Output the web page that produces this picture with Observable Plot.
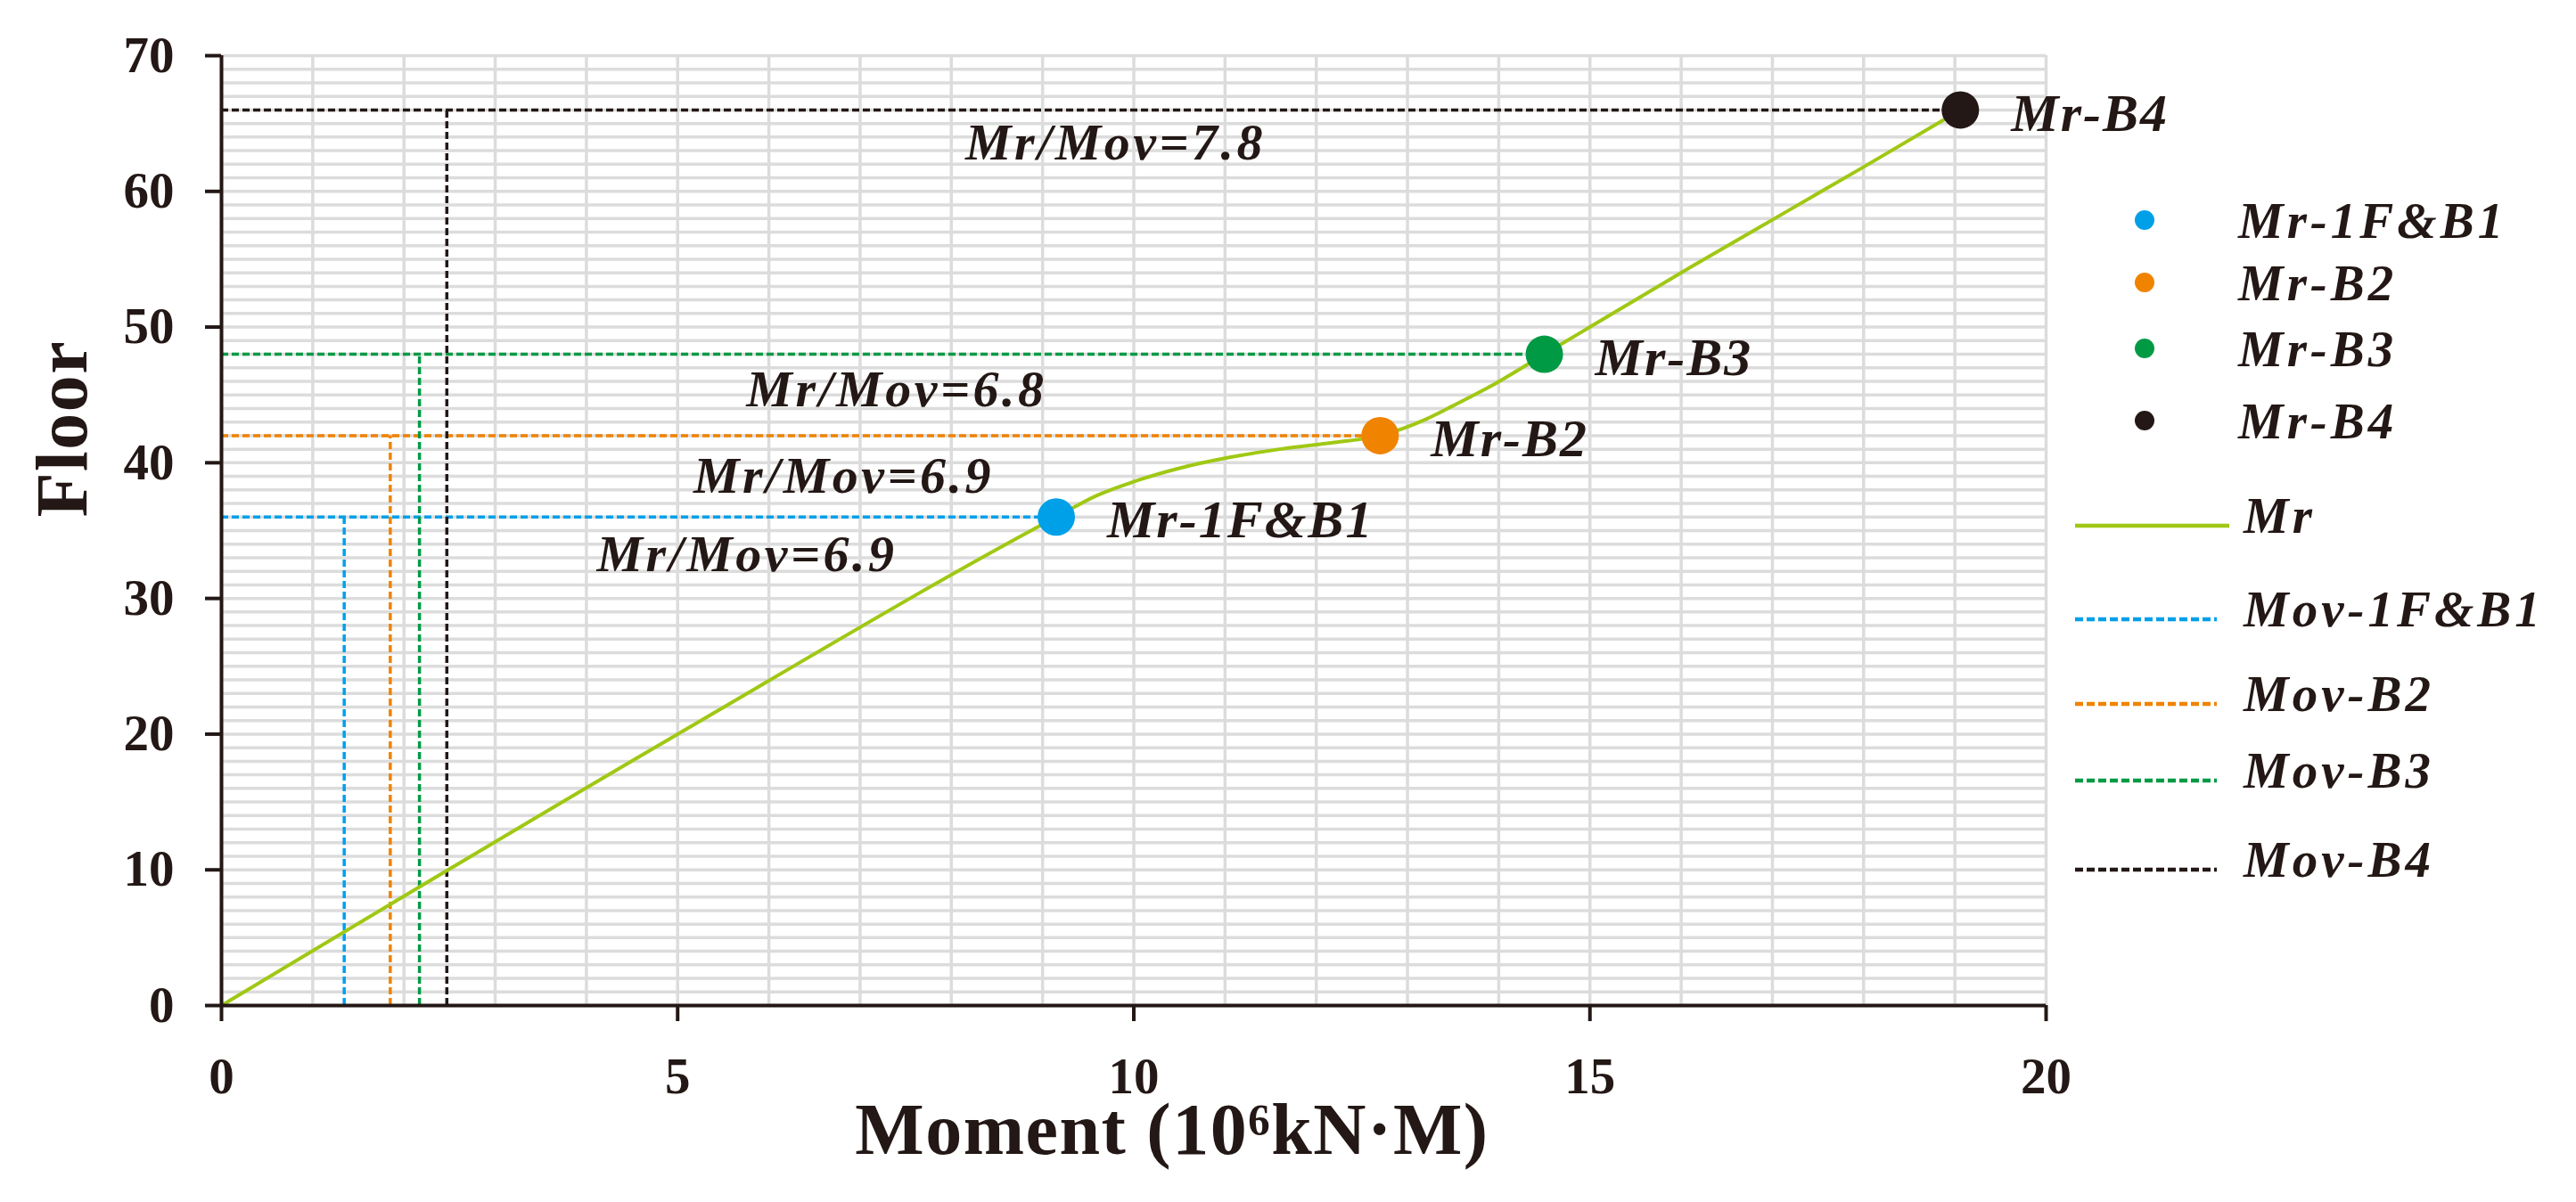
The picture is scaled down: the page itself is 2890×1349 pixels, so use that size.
<!DOCTYPE html>
<html>
<head>
<meta charset="utf-8">
<script src="https://cdn.jsdelivr.net/npm/d3@7"></script>
<script src="https://cdn.jsdelivr.net/npm/@observablehq/plot@0.6"></script>
<style>
  body { margin: 0; background: #fff; }
  #wrap { position: relative; width: 2890px; height: 1349px; font-family: "Liberation Serif", "Times New Roman", serif; color: #231815; }
  #wrap svg { overflow: visible; }
  #wrap svg g[font-size="60"] { letter-spacing: 2px; }
  #wrap svg g[font-size="58"] { letter-spacing: 3.5px; }
  #wrap svg g[font-size="82"] { letter-spacing: 1.5px; }
  .leg-text { position: absolute; font-size: 57px; font-weight: bold; font-style: italic; letter-spacing: 4px; line-height: 1; transform: translateY(-50%); white-space: nowrap; color: #231815; }
  .leg-sw { position: absolute; }
</style>
</head>
<body>
<div id="wrap"></div>
<script>
// ---- data ----
const pointNames = ["Mr-1F&B1", "Mr-B2", "Mr-B3", "Mr-B4"];
const mrValues = [9.15, 12.7, 14.5, 19.06];          // 10^6 kN·M
const floors = [36, 42, 48, 66];
const movValues = [1.345, 1.85, 2.17, 2.47];         // 10^6 kN·M
const seriesColors = ["#00a0e9", "#f08300", "#009a44", "#231815"];
const curveMoment = [0, 5, 9.15, 9.6, 10.04, 10.5, 11.05, 11.6, 12.2, 12.7, 13.2, 13.5, 13.9, 14.5, 16.1, 18.0, 19.06];
const curveFloor  = [0, 20, 36, 37.6, 38.7, 39.6, 40.4, 41.0, 41.5, 42, 43.2, 44.2, 45.6, 48, 54.4, 61.8, 66];
const ratioLabels = ["Mr/Mov=7.8", "Mr/Mov=6.8", "Mr/Mov=6.9", "Mr/Mov=6.9"];
const ratioX = [9.8, 7.4, 6.82, 5.76];
const ratioY = [63.6, 45.4, 39.0, 33.2];
const xTicks = [0, 5, 10, 15, 20];
const yTicks = [0, 10, 20, 30, 40, 50, 60, 70];
const curveName = "Mr";
const xTitle = "Moment (10⁶kN·M)";
const yTitle = "Floor";

// ---- tables ----
const pts = pointNames.map((n, i) => ({ name: n, mr: mrValues[i], floor: floors[i], mov: movValues[i], color: seriesColors[i] }));
const curve = curveMoment.map((m, i) => ({ m, f: curveFloor[i] }));
const ratios = ratioLabels.map((t, i) => ({ t, x: ratioX[i], y: ratioY[i] }));

const ink = "#231815";
const curveColor = "#a0c814";
const dash = "8,4";

const chart = Plot.plot({
  width: 2890,
  height: 1349,
  marginLeft: 248,
  marginRight: 595,
  marginTop: 62,
  marginBottom: 221,
  style: { fontFamily: '"Liberation Serif", "Times New Roman", serif', fontWeight: "bold", color: ink, background: "#fff" },
  x: { domain: [0, 20], label: null },
  y: { domain: [0, 70], label: null },
  color: { type: "identity" },
  marks: [
    Plot.gridX(d3.range(0, 21), { stroke: "#dcdcdc", strokeOpacity: 1, strokeWidth: 3.5 }),
    Plot.gridY(d3.range(0, 71), { stroke: "#dcdcdc", strokeOpacity: 1, strokeWidth: 3.5 }),
    Plot.ruleY(pts, { y: "floor", x1: 0, x2: "mr", stroke: "color", strokeWidth: 3.5, strokeDasharray: dash }),
    Plot.ruleX(pts, { x: "mov", y1: 0, y2: "floor", stroke: "color", strokeWidth: 3.5, strokeDasharray: dash }),
    Plot.line(curve, { x: "m", y: "f", stroke: curveColor, strokeWidth: 4, curve: "monotone-x" }),
    Plot.dot(pts, { x: "mr", y: "floor", r: 21, fill: "color", stroke: null }),
    Plot.text(pts, { x: "mr", y: "floor", text: "name", textAnchor: "start", dx: 57, dy: 4, fontSize: 60, fontStyle: "italic", fill: ink }),
    Plot.text(ratios, { x: "x", y: "y", text: "t", textAnchor: "middle", fontSize: 58, fontStyle: "italic", fill: ink }),
    Plot.ruleX([0], { stroke: ink, strokeWidth: 4 }),
    Plot.ruleY([0], { stroke: ink, strokeWidth: 4 }),
    Plot.axisX(xTicks, { tickSize: 18, tickPadding: 40, fontSize: 57, strokeWidth: 4, stroke: ink, label: null }),
    Plot.axisY(yTicks, { tickSize: 18, tickPadding: 35, fontSize: 57, strokeWidth: 4, stroke: ink, label: null }),
    Plot.text([xTitle], { text: d => d, frameAnchor: "bottom", lineAnchor: "middle", dx: 43, dy: 140, fontSize: 82, fill: ink }),
    Plot.text([yTitle], { text: d => d, frameAnchor: "left", lineAnchor: "middle", rotate: -90, dx: -178, dy: -15, fontSize: 82, fill: ink })
  ]
});

const wrap = document.getElementById("wrap");
wrap.appendChild(chart);

// ---- legend (HTML, right side) ----
const dotRowsY = [247, 317, 391, 472];
pts.forEach((p, i) => {
  const sw = document.createElementNS("http://www.w3.org/2000/svg", "svg");
  sw.setAttribute("class", "leg-sw");
  sw.setAttribute("width", 30); sw.setAttribute("height", 30);
  sw.style.left = (2406 - 15) + "px"; sw.style.top = (dotRowsY[i] - 15) + "px";
  sw.innerHTML = `<circle cx="15" cy="15" r="11" fill="${p.color}"/>`;
  wrap.appendChild(sw);
  const t = document.createElement("div");
  t.className = "leg-text";
  t.textContent = p.name;
  t.style.left = "2511px"; t.style.top = dotRowsY[i] + "px";
  wrap.appendChild(t);
});

const lineItems = [{ name: curveName, color: curveColor, dashed: false }]
  .concat(pts.map(p => ({ name: p.name.replace("Mr", "Mov"), color: p.color, dashed: true })));
const lineRowsY = [590, 695, 790, 876, 976];
lineItems.forEach((it, i) => {
  const len = it.dashed ? 159 : 173;
  const sw = document.createElementNS("http://www.w3.org/2000/svg", "svg");
  sw.setAttribute("class", "leg-sw");
  sw.setAttribute("width", len); sw.setAttribute("height", 10);
  sw.style.left = "2328px"; sw.style.top = (lineRowsY[i] - 5) + "px";
  sw.innerHTML = `<line x1="0" x2="${len}" y1="5" y2="5" stroke="${it.color}" stroke-width="4.5" ${it.dashed ? 'stroke-dasharray="9,4"' : ""}/>`;
  wrap.appendChild(sw);
  const t = document.createElement("div");
  t.className = "leg-text";
  t.textContent = it.name;
  t.style.left = "2517px"; t.style.top = (lineRowsY[i] - 12) + "px";
  wrap.appendChild(t);
});
</script>
</body>
</html>
